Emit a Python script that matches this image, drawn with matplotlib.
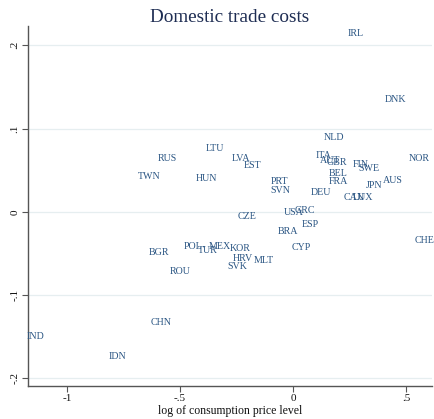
import matplotlib
matplotlib.use("Agg")
import matplotlib.pyplot as plt

plt.rcParams['font.family'] = ['Liberation Serif', 'DejaVu Serif']

countries = ["IRL", "DNK", "NLD", "LTU", "RUS", "TWN", "HUN", "LVA", "EST",
             "PRT", "SVN", "DEU", "ITA", "AUT", "GBR", "BEL", "FRA", "FIN",
             "SWE", "NOR", "AUS", "JPN", "CAN", "LUX", "GRC", "USA", "CZE",
             "ESP", "BRA", "CHE", "CYP", "KOR", "MEX", "POL", "TUR", "HRV",
             "MLT", "SVK", "BGR", "ROU", "CHN", "IND", "IDN"]
price_level = [0.279, 0.451, 0.181, -0.345, -0.558, -0.637, -0.385, -0.230, -0.181,
               -0.062, -0.058, 0.124, 0.133, 0.164, 0.195, 0.199, 0.199, 0.301,
               0.336, 0.558, 0.442, 0.358, 0.270, 0.310, 0.053, 0.004, -0.204,
               0.075, -0.022, 0.580, 0.037, -0.235, -0.323, -0.442, -0.376, -0.221,
               -0.128, -0.248, -0.593, -0.500, -0.584, -1.142, -0.779]
trade_cost = [0.2145, 0.135, 0.0893, 0.0765, 0.0636, 0.0425, 0.040, 0.0636, 0.0557,
              0.036, 0.026, 0.0228, 0.068, 0.062, 0.0593, 0.046, 0.036, 0.0569,
              0.052, 0.0636, 0.038, 0.0317, 0.0173, 0.0173, 0.002, -0.001, -0.006,
              -0.0156, -0.0232, -0.0348, -0.0432, -0.044, -0.0416, -0.042, -0.046, -0.056,
              -0.058, -0.066, -0.049, -0.072, -0.133, -0.150, -0.174]

xticks = [-1, -0.5, 0, 0.5]
xticklabels = ["-1", "-.5", "0", ".5"]
yticks = [-0.2, -0.1, 0, 0.1, 0.2]
yticklabels = ["-.2", "-.1", "0", ".1", ".2"]

label_color = "#2a5583"

fig = plt.figure(figsize=(4.34, 4.19), dpi=100)
ax = fig.add_axes([0.0645, 0.0788, 0.931, 0.859])

for name, xv, yv in zip(countries, price_level, trade_cost):
    ax.text(xv, yv, name, ha="center", va="center", fontsize=7.2,
            color=label_color, clip_on=False)

ax.set_xlim(-1.173, 0.615)
ax.set_ylim(-0.209, 0.223)
ax.set_xticks(xticks)
ax.set_xticklabels(xticklabels, fontsize=8)
ax.set_yticks(yticks)
ax.set_yticklabels(yticklabels, fontsize=8, rotation=90, va="center")

for yv in yticks:
    ax.axhline(yv, color="#e6eef0", linewidth=0.9, zorder=0)

for side in ["top", "right"]:
    ax.spines[side].set_visible(False)
for side in ["left", "bottom"]:
    ax.spines[side].set_color("#555555")
    ax.spines[side].set_linewidth(1.0)
ax.tick_params(axis="both", direction="out", length=4, width=0.8,
               color="#555555", labelcolor="#111111", pad=2)

ax.set_xlabel("log of consumption price level", fontsize=8.5, color="#111111", labelpad=1.5)
ax.set_title("Domestic trade costs", fontsize=13.8, color="#1e2d53", pad=3)

fig.savefig("out.png", dpi=100, facecolor="white")
